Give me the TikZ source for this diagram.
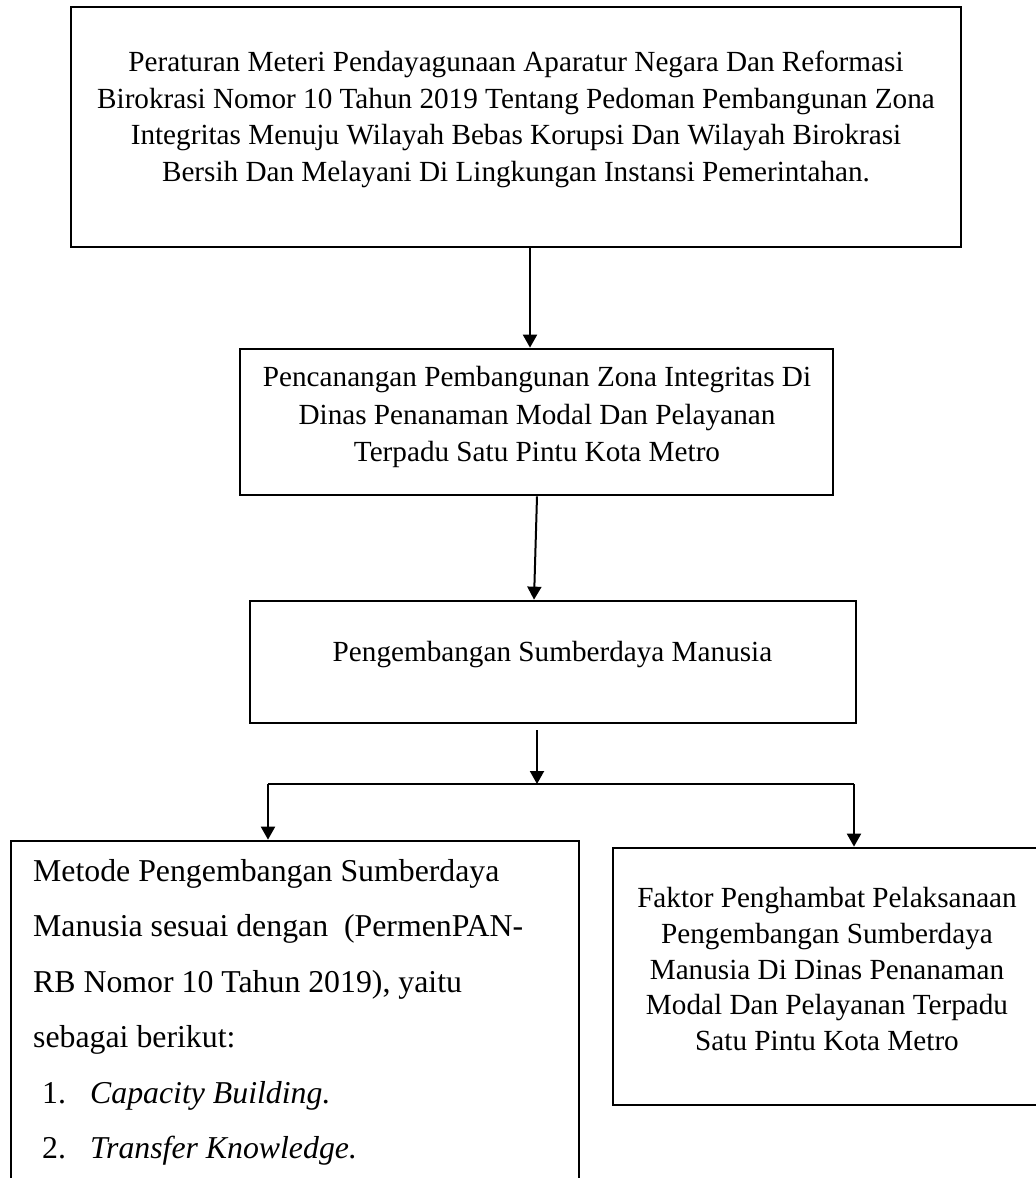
\documentclass[tikz,border=0pt]{standalone}
\usepackage{fontspec}
\setmainfont{Liberation Serif}
\usetikzlibrary{arrows.meta}

\begin{document}
\begin{tikzpicture}[x = 1pt, y = -1pt,
                    kotak/.style = {draw, line width = 2.7pt, inner sep = 0pt},
                    isi/.style = {align = center, inner sep = 0pt, font = \fontsize{29.2pt}{36.7pt}\selectfont},
                    panah/.style = {-{Triangle[length = 13pt, width = 14pt]}, line width = 2pt}]
                    \useasboundingbox (0, 0) rectangle (1036, 1178);
                    \clip (0, 0) rectangle (1036, 1178);
                    % kotak
                    \node[kotak, minimum width = 890pt, minimum height = 240pt] (peraturan) at (516, 127) {};
                    \node[kotak, minimum width = 593pt, minimum height = 146pt] (pencanangan) at (536.5, 422) {};
                    \node[kotak, minimum width = 606pt, minimum height = 122pt] (pengembangan) at (553, 662) {};
                    \node[kotak, minimum width = 568pt, minimum height = 369pt] (metode) at (295, 1025.5) {};
                    \node[kotak, minimum width = 428pt, minimum height = 257pt] (faktor) at (827, 976.5) {};
                    % isi
                    \node[isi] (peraturan-isi) at (516, 119.5) {Peraturan Meteri Pendayagunaan Aparatur Negara Dan Reformasi\\
                        Birokrasi Nomor 10 Tahun 2019 Tentang Pedoman Pembangunan Zona\\
                        Integritas Menuju Wilayah Bebas Korupsi Dan Wilayah Birokrasi\\
                        Bersih Dan Melayani Di Lingkungan Instansi Pemerintahan.};
                    \node[isi, font = \fontsize{29.2pt}{37.5pt}\selectfont] (pencanangan-isi) at (537, 417) {Pencanangan Pembangunan Zona Integritas Di\\
                        Dinas Penanaman Modal Dan Pelayanan\\
                        Terpadu Satu Pintu Kota Metro};
                    \node[isi] (pengembangan-isi) at (552.5, 654.5) {Pengembangan Sumberdaya Manusia};
                    \node[isi, align = left, anchor = north west, font = \fontsize{31.8pt}{55.5pt}\selectfont] (metode-isi) at (33, 859) {Metode Pengembangan Sumberdaya\\
                        Manusia sesuai dengan\ \ (PermenPAN-\\
                        RB Nomor 10 Tahun 2019), yaitu\\
                        sebagai berikut:\\
                        \hspace*{9pt}\makebox[48pt][l]{1.}\textit{Capacity Building.}\\
                        \hspace*{9pt}\makebox[48pt][l]{2.}\textit{Transfer Knowledge.}};
                    \node[isi, font = \fontsize{29.2pt}{35.75pt}\selectfont] (faktor-isi) at (827, 969) {Faktor Penghambat Pelaksanaan\\
                        Pengembangan Sumberdaya\\
                        Manusia Di Dinas Penanaman\\
                        Modal Dan Pelayanan Terpadu\\
                        Satu Pintu Kota Metro};
                    % panah
                    \coordinate (cabang) at (537, 784);
                    \coordinate (cabang-kiri) at (268, 784);
                    \coordinate (cabang-kanan) at (854, 784);
                    \draw[panah] ([xshift = 14pt]peraturan.south) -- ([xshift = -6.5pt]pencanangan.north);
                    \draw[panah] ([xshift = 0.5pt]pencanangan.south) -- ([xshift = -19pt]pengembangan.north);
                    \draw[panah] ([xshift = -16pt, yshift = -6pt]pengembangan.south) -- (cabang);
                    \draw[line width = 1.3pt] (cabang-kiri) -- (cabang-kanan);
                    \draw[panah] (cabang-kiri) -- (metode.north -| cabang-kiri);
                    \draw[panah] (cabang-kanan) -- (faktor.north -| cabang-kanan);
                \end{tikzpicture}
\end{document}
